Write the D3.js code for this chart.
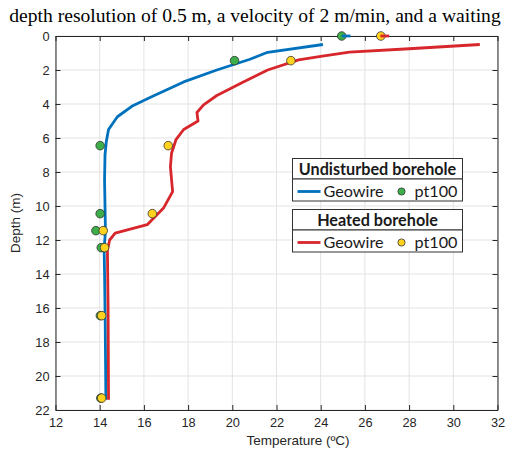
<!DOCTYPE html>
<html><head><meta charset="utf-8">
<script src="https://cdn.jsdelivr.net/npm/d3@7"></script>
<style>body{margin:0;background:#fff}svg{display:block}</style>
</head><body>
<svg id="c" width="505" height="450"></svg>
<script>
// ---- data ----
const xTicks = [12,14,16,18,20,22,24,26,28,30,32];
const yTicks = [0,2,4,6,8,10,12,14,16,18,20,22];
// Undisturbed borehole Geowire (temperature, depth)
const undistGeoT = [24.1,21.6,20.8,19.3,17.8,16.3,15.5,14.8,14.4,14.3,14.24,14.22,14.24,14.26,14.2,14.22,14.25,14.28];
const undistGeoD = [0.5,0.96,1.37,2.0,2.7,3.6,4.1,4.75,5.5,6.2,7.0,8.5,10.0,11.5,12.5,14.0,17.0,21.4];
// Heated borehole Geowire
const heatGeoT = [31.2,28.0,25.3,24.0,23.0,21.6,20.5,19.3,18.7,18.4,18.45,17.8,17.45,17.25,17.2,17.3,16.9,16.15,14.7,14.45,14.35,14.38,14.4];
const heatGeoD = [0.5,0.75,0.95,1.2,1.4,2.0,2.7,3.5,4.05,4.5,5.0,5.5,6.1,6.9,7.7,9.15,10.1,11.1,11.6,12.0,12.6,16.0,21.4];
// surface stubs at depth 0
const undistSurfT = [24.95,25.35], undistSurfD = [0,0];
const heatSurfT = [26.7,27.1], heatSurfD = [0,0];
// pt100 points
const ptDepth = [0,1.45,6.45,10.45,11.45,12.45,16.45,21.3];
const undistPt = [24.95,20.1,14.02,14.02,13.83,14.07,14.03,14.05];
const heatPt = [26.72,22.65,17.1,16.38,14.16,14.22,14.09,14.09];

const titleText = "depth resolution of 0.5 m, a velocity of 2 m/min, and a waiting";
const blue="#0072BD", red="#D7262C", green="#3DAE49", yellow="#FFD21F";

const svg = d3.select("#c");
const L=55.5, R=497.5, T=36, B=410;
const x = d3.scaleLinear().domain([12,32]).range([L,R]);
const y = d3.scaleLinear().domain([0,22]).range([T,B]);
const axCol="#262626";

// title
svg.append("text").attr("x",255).attr("y",22).attr("text-anchor","middle")
  .attr("font-family","Liberation Serif").attr("font-size",19.6).attr("fill","#000").text(titleText);

// grid
const g = svg.append("g");
g.selectAll(".gx").data(xTicks).join("line").attr("x1",d=>x(d)).attr("x2",d=>x(d)).attr("y1",T).attr("y2",B)
  .attr("stroke","#e3e3e3").attr("stroke-width",1);
g.selectAll(".gy").data(yTicks).join("line").attr("y1",d=>y(d)).attr("y2",d=>y(d)).attr("x1",L).attr("x2",R)
  .attr("stroke","#e3e3e3").attr("stroke-width",1);

// axes
const xAx = svg.append("g").attr("transform",`translate(0,${B})`).call(d3.axisBottom(x).tickValues(xTicks).tickSizeInner(-5).tickSizeOuter(0).tickPadding(8));
const xTop = svg.append("g").attr("transform",`translate(0,${T})`).call(d3.axisTop(x).tickValues(xTicks).tickSizeInner(-5).tickSizeOuter(0).tickFormat(""));
const yAx = svg.append("g").attr("transform",`translate(${L},0)`).call(d3.axisLeft(y).tickValues(yTicks).tickSizeInner(-5).tickSizeOuter(0).tickPadding(6));
const yR = svg.append("g").attr("transform",`translate(${R},0)`).call(d3.axisRight(y).tickValues(yTicks).tickSizeInner(-5).tickSizeOuter(0).tickFormat(""));
[xAx,xTop,yAx,yR].forEach(a=>{
  a.select(".domain").attr("stroke",axCol).attr("stroke-width",1);
  a.selectAll(".tick line").attr("stroke",axCol);
  a.selectAll("text").attr("font-family","Liberation Sans").attr("font-size",12.8).attr("fill",axCol);
});

// axis labels
svg.append("text").attr("x",298).attr("y",445).attr("text-anchor","middle")
  .attr("font-family","Liberation Sans").attr("font-size",13.5).attr("fill",axCol).text("Temperature (ºC)");
svg.append("text").attr("transform","translate(20,223) rotate(-90)").attr("text-anchor","middle")
  .attr("font-family","Liberation Sans").attr("font-size",13.5).attr("fill",axCol).text("Depth (m)");

// clip
svg.append("clipPath").attr("id","clip").append("rect").attr("x",L).attr("y",T-3).attr("width",R-L).attr("height",B-T+3);
const plot = svg.append("g").attr("clip-path","url(#clip)");
const line = d3.line().x(d=>x(d[0])).y(d=>y(d[1]));
const zip=(a,b)=>a.map((v,i)=>[v,b[i]]);

plot.append("path").datum(zip(undistGeoT,undistGeoD)).attr("d",line).attr("fill","none").attr("stroke",blue).attr("stroke-width",2.8).attr("stroke-linejoin","round");
plot.append("path").datum(zip(heatGeoT,heatGeoD)).attr("d",line).attr("fill","none").attr("stroke",red).attr("stroke-width",2.8).attr("stroke-linejoin","round");

const pts = svg.append("g");
pts.selectAll(".gp").data(zip(undistPt,ptDepth)).join("circle").attr("cx",d=>x(d[0])).attr("cy",d=>y(d[1])).attr("r",4.3)
  .attr("fill",green).attr("stroke","#333").attr("stroke-width",0.8);
pts.selectAll(".yp").data(zip(heatPt,ptDepth)).join("circle").attr("cx",d=>x(d[0])).attr("cy",d=>y(d[1])).attr("r",4.3)
  .attr("fill",yellow).attr("stroke","#333").attr("stroke-width",0.8);

svg.append("path").datum(zip(undistSurfT,undistSurfD)).attr("d",line).attr("fill","none").attr("stroke",blue).attr("stroke-width",2.8);
svg.append("path").datum(zip(heatSurfT,heatSurfD)).attr("d",line).attr("fill","none").attr("stroke",red).attr("stroke-width",2.8);

// legends
function legend(y0, title, col, dotCol){
  const lg = svg.append("g");
  lg.append("rect").attr("x",292.5).attr("y",y0).attr("width",170).attr("height",20.5).attr("fill","#fff").attr("stroke","#333").attr("stroke-width",1);
  lg.append("rect").attr("x",292.5).attr("y",y0+20.5).attr("width",170).attr("height",22).attr("fill","#fff").attr("stroke","#333").attr("stroke-width",1);
  lg.append("text").attr("x",377.5).attr("y",y0+16).attr("text-anchor","middle").attr("font-family","Lato").attr("font-weight","bold")
    .attr("font-size",16.2).attr("fill","#1a1a1a").text(title);
  const ry = y0+33;
  lg.append("line").attr("x1",297.5).attr("x2",320.5).attr("y1",ry).attr("y2",ry).attr("stroke",col).attr("stroke-width",2.8);
  lg.append("text").attr("x",323.5).attr("y",ry+5.5).attr("font-family","Lato").attr("font-size",16.2).attr("fill","#1a1a1a").text("Geowire");
  lg.append("circle").attr("cx",401.5).attr("cy",ry).attr("r",3.6).attr("fill",dotCol).attr("stroke","#333").attr("stroke-width",0.8);
  lg.append("text").attr("x",414.5).attr("y",ry+5.5).attr("font-family","Lato").attr("font-size",16.2).attr("fill","#1a1a1a").text("pt100");
}
legend(158.5,"Undisturbed borehole",blue,green);
legend(209.5,"Heated borehole",red,yellow);
</script>
</body></html>
